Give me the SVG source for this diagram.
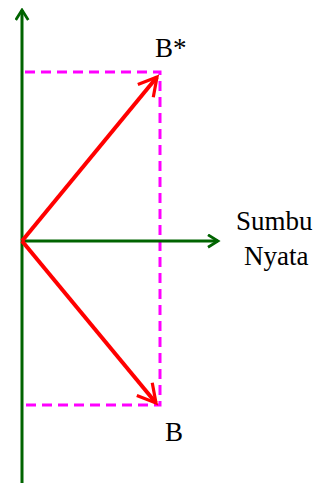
<svg xmlns="http://www.w3.org/2000/svg" width="333" height="483" viewBox="0 0 333 483">
<style>
.ax{stroke:#006400;stroke-width:3;fill:none}
.vec{stroke:#ff0000;stroke-width:4;fill:none}
.dash{stroke:#ff00ff;stroke-width:3;fill:none;stroke-dasharray:10,6}
.lbl{font-family:"Liberation Serif","Times New Roman",serif;font-size:27px;fill:#000}
</style>
<defs>
<marker id="ga" viewBox="0 0 12 12" refX="10" refY="6" markerWidth="5" markerHeight="5" orient="auto" markerUnits="strokeWidth">
<path d="M2,1 L10,6 L2,11" stroke="#006400" stroke-width="2.2" fill="none"/>
</marker>
<marker id="ra" viewBox="0 0 12 12" refX="10" refY="6" markerWidth="6" markerHeight="6" orient="auto" markerUnits="strokeWidth">
<path d="M1,1 L10,6 L1,11" stroke="#ff0000" stroke-width="1.6" fill="none"/>
</marker>
</defs>
<g id="connectors">
<path class="dash" d="M25,72 H160 V405 H25"/>
<line class="ax" x1="22" y1="483" x2="22" y2="10" marker-end="url(#ga)"/>
<line class="ax" x1="22" y1="241" x2="218" y2="241" marker-end="url(#ga)"/>
<line class="vec" x1="22" y1="241" x2="157" y2="77" marker-end="url(#ra)"/>
<line class="vec" x1="22" y1="241" x2="156" y2="403" marker-end="url(#ra)"/>
</g>
<g id="label-bstar"><text class="lbl" x="155" y="57">B*</text></g>
<g id="label-axis"><text class="lbl" x="236" y="230">Sumbu</text><text class="lbl" x="244" y="265">Nyata</text></g>
<g id="label-b"><text class="lbl" x="165" y="441">B</text></g>
</svg>
